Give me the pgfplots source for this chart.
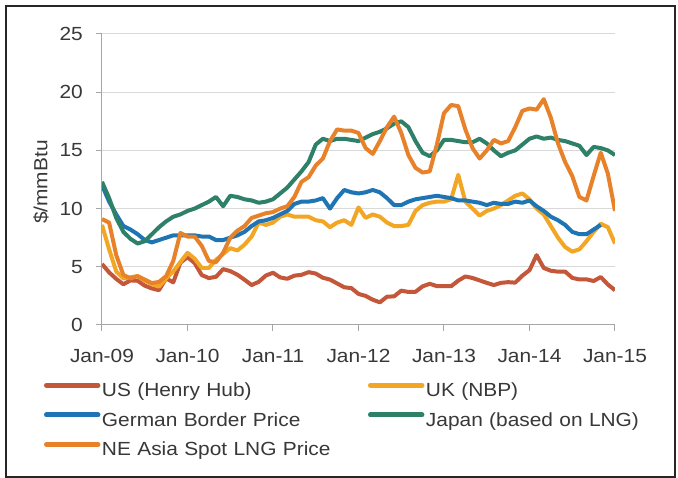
\documentclass[border=0pt]{standalone}
\usepackage{fontspec}
\setmainfont{Liberation Sans}[FakeStretch=1.1]
\usepackage{pgfplots}
\usepackage{pgfplotstable}
\pgfplotsset{compat=1.18}

\definecolor{usred}{RGB}{196,86,58}
\definecolor{ukyel}{RGB}{242,166,36}
\definecolor{deblue}{RGB}{31,117,180}
\definecolor{jpgreen}{RGB}{46,128,104}
\definecolor{neorange}{RGB}{232,130,42}
\definecolor{txtgray}{RGB}{56,56,56}
\definecolor{gridgray}{RGB}{217,217,217}
\definecolor{axgray}{RGB}{166,166,166}

% monthly prices, $/mmBtu; m = months since Jan-09
\pgfplotstableread{
m us uk de jp ne
0 5.24 8.6 12.0 12.3 9.1
1 4.52 6.5 10.6 10.9 8.8
2 3.96 4.6 9.5 9.2 6.0
3 3.50 4.0 8.5 8.0 4.3
4 3.83 4.1 8.2 7.4 4.0
5 3.80 4.2 7.8 7.0 4.2
6 3.38 3.8 7.3 7.2 3.9
7 3.14 3.5 7.1 7.8 3.6
8 2.99 3.3 7.3 8.4 3.7
9 4.01 4.0 7.5 8.9 4.2
10 3.66 4.6 7.7 9.3 5.5
11 5.35 5.4 7.7 9.5 7.9
12 5.83 6.2 7.7 9.8 7.6
13 5.32 5.7 7.7 10.0 7.6
14 4.29 4.9 7.6 10.3 6.8
15 4.03 4.9 7.6 10.6 5.5
16 4.14 5.6 7.3 11.0 5.4
17 4.80 6.1 7.3 10.2 6.2
18 4.63 6.6 7.5 11.1 7.5
19 4.32 6.4 7.7 11.0 8.1
20 3.89 6.9 8.0 10.8 8.5
21 3.43 7.6 8.5 10.7 9.2
22 3.71 8.8 8.9 10.5 9.4
23 4.25 8.6 9.0 10.6 9.6
24 4.49 8.8 9.2 10.8 9.7
25 4.09 9.3 9.5 11.3 10.0
26 3.97 9.5 9.8 11.8 10.2
27 4.24 9.3 10.4 12.5 11.0
28 4.31 9.3 10.6 13.2 12.3
29 4.54 9.3 10.6 14.0 12.7
30 4.42 9.0 10.7 15.5 13.7
31 4.06 8.9 10.9 16.0 14.3
32 3.90 8.4 10.0 15.8 15.8
33 3.57 8.8 10.9 16.0 16.8
34 3.24 9.0 11.6 16.0 16.7
35 3.17 8.6 11.4 15.9 16.7
36 2.67 10.1 11.3 15.8 16.5
37 2.50 9.2 11.4 16.1 15.2
38 2.17 9.5 11.6 16.4 14.7
39 1.95 9.3 11.4 16.6 15.8
40 2.43 8.8 10.9 16.9 17.0
41 2.46 8.5 10.3 17.3 17.9
42 2.95 8.5 10.3 17.5 16.5
43 2.84 8.6 10.6 17.0 14.6
44 2.85 9.8 10.8 15.8 13.5
45 3.32 10.3 10.9 14.8 13.1
46 3.54 10.5 11.0 14.5 13.2
47 3.34 10.6 11.1 15.0 15.5
48 3.33 10.6 11.0 15.9 18.2
49 3.33 10.8 10.9 15.9 18.9
50 3.81 12.9 10.7 15.8 18.8
51 4.17 10.6 10.7 15.7 16.8
52 4.04 10.0 10.6 15.7 15.2
53 3.83 9.4 10.5 16.0 14.3
54 3.62 9.8 10.3 15.6 15.0
55 3.43 10.0 10.5 15.0 15.9
56 3.62 10.3 10.4 14.5 15.6
57 3.68 10.7 10.4 14.8 15.8
58 3.64 11.1 10.6 15.0 17.0
59 4.24 11.3 10.5 15.5 18.4
60 4.71 10.8 10.7 16.0 18.6
61 6.00 10.0 10.2 16.2 18.5
62 4.90 9.5 9.8 16.0 19.4
63 4.66 8.5 9.3 16.1 17.8
64 4.58 7.5 9.0 15.9 15.6
65 4.59 6.7 8.6 15.8 14.0
66 4.05 6.3 8.0 15.6 12.8
67 3.91 6.5 7.8 15.4 11.0
68 3.92 7.2 7.8 14.6 10.7
69 3.78 8.0 8.2 15.3 12.8
70 4.12 8.7 8.6 15.2 14.8
71 3.48 8.4 nan 15.0 13.0
72 2.99 7.0 nan 14.6 9.8
}\prices

\begin{document}
\begin{tikzpicture}
\useasboundingbox (-102pt,-153pt) rectangle (576pt,325pt);
\fill[white] (-102pt,-153pt) rectangle (576pt,325pt);
\begin{axis}[
  scale only axis,
  width=513pt, height=291pt,
  xmin=0, xmax=72, ymin=0, ymax=25,
  xtick={0,12,...,72},
  xticklabels={Jan-09,Jan-10,Jan-11,Jan-12,Jan-13,Jan-14,Jan-15},
  ytick={0,5,...,25},
  axis x line*=bottom, axis y line*=left,
  axis line style={draw=axgray, line width=1pt},
  tick align=outside,
  major tick length=6pt,
  tick style={draw=axgray, line width=1pt},
  ymajorgrids,
  grid style={draw=gridgray, line width=1pt},
  /pgf/number format/assume math mode=true,
  tick label style={font=\fontsize{19}{22}\selectfont, text=txtgray, inner sep=0pt},
  xticklabel style={anchor=base, yshift=-32pt},
  yticklabel style={anchor=east, xshift=-13pt},
  ylabel={\$/mmBtu},
  ylabel style={at={(axis description cs:-0.119,0.491)}, anchor=center,
    font=\fontsize{19}{22}\selectfont, text=txtgray},
  legend columns=2,
  legend cell align=left,
  legend style={at={(axis description cs:-0.117,-0.199)}, anchor=north west,
    draw=none, fill=none, inner sep=0pt, outer sep=0pt,
    column sep=0pt, row sep=11.5pt,
    font=\fontsize{19}{22}\selectfont, text=txtgray,
    nodes={inner sep=0pt, text height=14pt, text depth=4pt, text width=264pt}},
  legend image code/.code={
    \path (0pt,0pt) (56pt,0pt);
    \draw[#1, line width=5pt, line cap=round] (2.5pt,6.5pt) -- (54pt,6.5pt);},
  every axis plot/.append style={line width=4pt, line join=round, no markers},
]
\addplot[usred] table[x=m, y=us] {\prices};
\addlegendentry{US (Henry Hub)}
\addplot[ukyel] table[x=m, y=uk] {\prices};
\addlegendentry{UK (NBP)}
\addplot[deblue] table[x=m, y=de] {\prices};
\addlegendentry{German Border Price}
\addplot[jpgreen] table[x=m, y=jp] {\prices};
\addlegendentry{Japan (based on LNG)}
\addplot[neorange] table[x=m, y=ne] {\prices};
\addlegendentry{NE Asia Spot LNG Price}
\end{axis}
\draw[line width=1.5pt, black!85] (-96pt,-152pt) rectangle (573pt,319pt);
\end{tikzpicture}
\end{document}
